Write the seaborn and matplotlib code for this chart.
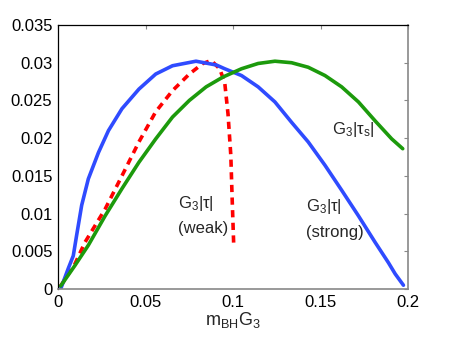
import matplotlib
matplotlib.use("Agg")
import matplotlib.pyplot as plt
import seaborn as sns
import pandas as pd

# data
blue_x = [0.0015, 0.0058, 0.0087, 0.0106, 0.0135, 0.0173, 0.0231, 0.0288, 0.0365, 0.0462,
          0.0558, 0.0654, 0.0788, 0.0904, 0.0952, 0.1048, 0.1143, 0.1239, 0.1334, 0.1429,
          0.1525, 0.162, 0.1716, 0.1811, 0.1887, 0.1926, 0.1973]
blue_y = [0.0000, 0.0027, 0.0044, 0.0071, 0.0111, 0.0146, 0.0181, 0.0210, 0.0239, 0.0265,
          0.0285, 0.0296, 0.0302, 0.0297, 0.0292, 0.0283, 0.0268, 0.0248, 0.0221, 0.0195,
          0.0164, 0.0131, 0.0097, 0.0062, 0.0035, 0.0020, 0.0005]

green_x = [0.0015, 0.0096, 0.0173, 0.0269, 0.0365, 0.0462, 0.0558, 0.0654, 0.075, 0.0846,
           0.0942, 0.1019, 0.1048, 0.1143, 0.1239, 0.1334, 0.1429, 0.1525, 0.162, 0.1716,
           0.1811, 0.1906, 0.1969]
green_y = [0.0004, 0.0031, 0.0058, 0.0097, 0.0133, 0.0168, 0.0199, 0.0228, 0.0250, 0.0268,
           0.0281, 0.0289, 0.0292, 0.0299, 0.0302, 0.0300, 0.0294, 0.0283, 0.0268, 0.0248,
           0.0223, 0.0199, 0.0186]

red_x = [0.0015, 0.0096, 0.0154, 0.0269, 0.0365, 0.0462, 0.0558, 0.0654, 0.075, 0.0827,
         0.0875, 0.0923, 0.0952, 0.0971, 0.0987, 0.0994, 0.1004]
red_y = [0.0004, 0.0033, 0.0062, 0.0106, 0.0150, 0.0195, 0.0235, 0.0263, 0.0285, 0.0299,
         0.0303, 0.0292, 0.0274, 0.0232, 0.0177, 0.0124, 0.0055]

x_ticks = [0, 0.05, 0.1, 0.15, 0.2]
x_labels = ["0", "0.05", "0.1", "0.15", "0.2"]
y_ticks = [0, 0.005, 0.01, 0.015, 0.02, 0.025, 0.03, 0.035]
y_labels = ["0", "0.005", "0.01", "0.015", "0.02", "0.025", "0.03", "0.035"]

sns.set_style("white")
plt.rcParams['font.family'] = ['Liberation Sans', 'DejaVu Sans']
plt.rcParams['mathtext.fontset'] = 'custom'
plt.rcParams['mathtext.rm'] = 'Liberation Sans'
plt.rcParams['mathtext.it'] = 'Liberation Sans'
plt.rcParams['mathtext.bf'] = 'Liberation Sans'

fig = plt.figure(figsize=(4.5, 3.38), dpi=100)
ax = fig.add_axes([0.129, 0.145, 0.778, 0.781])

red = pd.DataFrame({"x": red_x, "y": red_y})
blue = pd.DataFrame({"x": blue_x, "y": blue_y})
green = pd.DataFrame({"x": green_x, "y": green_y})

sns.lineplot(data=red, x="x", y="y", sort=False, estimator=None, ax=ax,
             color="#ff0000", linewidth=2.6)
ax.lines[-1].set_dashes((2.0, 1.5))
sns.lineplot(data=blue, x="x", y="y", sort=False, estimator=None, ax=ax,
             color="#2f4bff", linewidth=2.6)
sns.lineplot(data=green, x="x", y="y", sort=False, estimator=None, ax=ax,
             color="#1c9a0c", linewidth=2.6)
for ln in ax.lines:
    ln.set_solid_joinstyle("round")
    ln.set_dash_joinstyle("round")

ax.set_xlim(0, 0.2)
ax.set_ylim(0, 0.035)
ax.set_xticks(x_ticks)
ax.set_xticklabels(x_labels)
ax.set_yticks(y_ticks)
ax.set_yticklabels(y_labels)
ax.tick_params(direction="in", length=3, width=0.8, color="#888888",
               labelsize=12, top=True, right=True, labelcolor="black", pad=4)
ax.set_xlabel(r"m$_{\mathrm{BH}}$G$_3$", fontsize=13, labelpad=0)
ax.set_ylabel("")

for side in ["top", "left"]:
    ax.spines[side].set_color("black")
    ax.spines[side].set_linewidth(0.9)
for side in ["bottom", "right"]:
    ax.spines[side].set_color("#888888")
    ax.spines[side].set_linewidth(1.2)

ax.text(0.0686, 0.0113, "G$_3$|τ|", fontsize=12, ha="left", va="center")
ax.text(0.0686, 0.0080, "(weak)", fontsize=12, ha="left", va="center")
ax.text(0.1417, 0.0109, "G$_3$|τ|", fontsize=12, ha="left", va="center")
ax.text(0.1417, 0.0075, "(strong)", fontsize=12, ha="left", va="center")
ax.text(0.1566, 0.0212, "G$_3$|τ$_\\mathrm{s}$|", fontsize=12, ha="left", va="center")

fig.savefig("out.png", dpi=100)
